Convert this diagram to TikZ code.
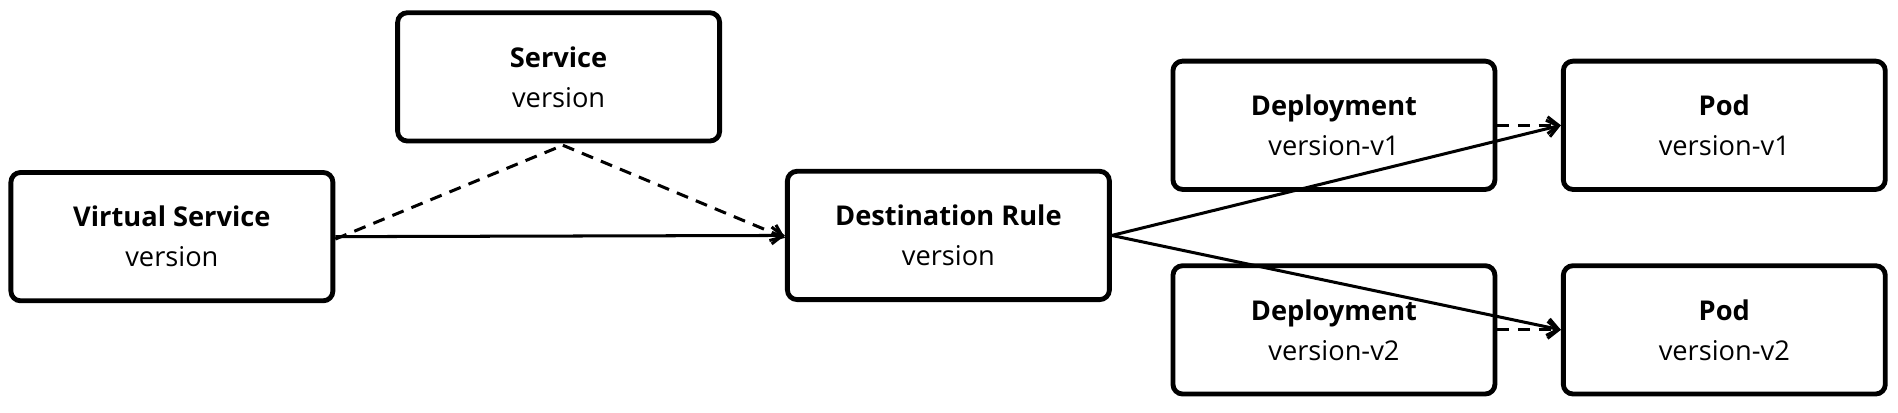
\documentclass[tikz,border=0pt]{standalone}
\usepackage{fontspec}
\setmainfont{Open Sans}
\usetikzlibrary{arrows.meta}
\begin{document}
\begin{tikzpicture}[x=1pt,y=-1pt,
  box/.style={draw,line width=4pt,rounded corners=8pt,minimum width=266pt,minimum height=106pt,align=center,inner sep=0pt,font=\fontsize{22.5}{33}\selectfont},
  conn/.style={line width=2.5pt,-{Straight Barb[length=9pt,width=14pt,line width=2.5pt]}},
  dsh/.style={line width=2.5pt,dash pattern=on 10pt off 7pt}]
\useasboundingbox (0,0) rectangle (1568,341);
\node[box] (vs) at (142,195.5) {\textbf{Virtual Service}\\version};
\node[box] (svc) at (461.5,63.5) {\textbf{Service}\\version};
\node[box] (dr) at (783.5,194.5) {\textbf{Destination Rule}\\version};
\node[box] (d1) at (1102,103.5) {\textbf{Deployment}\\version-v1};
\node[box] (p1) at (1424.5,103.5) {\textbf{Pod}\\version-v1};
\node[box] (d2) at (1102,272.5) {\textbf{Deployment}\\version-v2};
\node[box] (p2) at (1424.5,272.5) {\textbf{Pod}\\version-v2};
\coordinate (sb) at (465,120);
\draw[conn] (vs.east) -- (dr.west);
\draw[dsh] ([yshift=-2pt]vs.east) -- (sb);
\draw[dsh,conn,dash pattern=on 10pt off 7pt] (sb) -- ([yshift=-2pt]dr.west);
\draw[conn] (dr.east) -- (p1.west);
\draw[conn] (dr.east) -- (p2.west);
\draw[dsh,conn,dash pattern=on 10pt off 7pt] (d1.east) -- (p1.west);
\draw[dsh,conn,dash pattern=on 10pt off 7pt] (d2.east) -- (p2.west);
\end{tikzpicture}
\end{document}
